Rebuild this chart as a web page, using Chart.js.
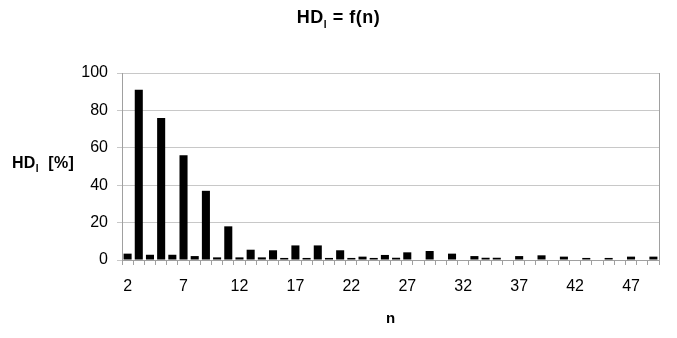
<!DOCTYPE html>
<html>
<head>
<meta charset="utf-8">
<script src="https://cdn.jsdelivr.net/npm/chart.js@4"></script>
<style>
  body { margin: 0; background: #fff; }
  #wrap { position: relative; width: 677px; height: 338px; font-family: "Liberation Sans", Arial, sans-serif; }
  #title { position: absolute; top: 7px; left: 0; width: 677px; text-align: center; font-weight: bold; font-size: 18px; letter-spacing: 0.5px; color: #000; }
  #ylab { position: absolute; top: 154px; left: 12px; font-weight: bold; font-size: 16px; letter-spacing: 0.3px; color: #000; }
  sub { font-size: 10px; }
</style>
</head>
<body>
<div id="wrap">
  <canvas id="myChart" width="677" height="338"></canvas>
  <div id="title">HD<sub>I</sub> = f(n)</div>
  <div id="ylab">HD<sub>I</sub>&nbsp; [%]</div>
</div>
<script>
const ctx = document.getElementById("myChart");

const harmonics = [];
for (let n = 2; n <= 49; n++) harmonics.push(n);

// HD_I in % for n = 2..49
const hdValues = [
  3.4, 91, 2.8, 76, 2.8, 56, 2.1, 37, 1.4, 18,
  1.4, 5.5, 1.4, 5.2, 1.1, 7.8, 1.1, 7.8, 1.1, 5.2,
  1.1, 1.8, 1.1, 2.7, 1.2, 4.1, 0, 4.8, 0, 3.4,
  0, 2.1, 1.2, 1.2, 0, 2.1, 0, 2.5, 0, 1.8,
  0, 1.1, 0, 1.1, 0, 1.8, 0, 1.8,
];

const yTicks = [0, 20, 40, 60, 80, 100];

const frame = {
  id: "frame",
  afterDraw(chart) {
    const a = chart.chartArea;
    const c = chart.ctx;
    c.save();
    c.strokeStyle = "#a0a0a0";
    c.lineWidth = 1;
    c.beginPath();
    c.moveTo(a.right + 0.5, a.top);
    c.lineTo(a.right + 0.5, a.bottom);
    c.stroke();
    c.restore();
  },
};

new Chart(ctx, {
  type: "bar",
  data: {
    labels: harmonics,
    datasets: [
      {
        label: "HD",
        data: hdValues,
        backgroundColor: "#000000",
        barPercentage: 0.72,
        categoryPercentage: 1,
      },
    ],
  },
  options: {
    responsive: false,
    animation: false,
    layout: { padding: { top: 73, right: 18, left: 0, bottom: 0 } },
    plugins: {
      legend: { display: false },
      tooltip: { enabled: false },
    },
    scales: {
      x: {
        afterFit(scale) {
          scale.height = 78;
        },
        grid: {
          offset: true,
          drawOnChartArea: false,
          color: "#a0a0a0",
          tickLength: 5,
        },
        border: { color: "#a0a0a0" },
        ticks: {
          autoSkip: false,
          maxRotation: 0,
          color: "#000",
          padding: 12,
          font: { family: "Liberation Sans", size: 16 },
          callback(value, index) {
            return index % 5 === 0 ? harmonics[index] : "";
          },
        },
        title: {
          display: true,
          text: "n",
          color: "#000",
          font: { family: "Liberation Sans", size: 15, weight: "bold" },
          padding: { top: 10, bottom: 10 },
        },
      },
      y: {
        min: 0,
        max: 100,
        afterFit(scale) {
          scale.width = 122;
        },
        afterBuildTicks(scale) {
          scale.ticks = yTicks.map((v) => ({ value: v }));
        },
        grid: { color: "#c8c8c8", tickLength: 5 },
        border: { color: "#a0a0a0" },
        ticks: {
          color: "#000",
          padding: 9,
          font: { family: "Liberation Sans", size: 16 },
        },
      },
    },
  },
  plugins: [frame],
});
</script>
</body>
</html>
